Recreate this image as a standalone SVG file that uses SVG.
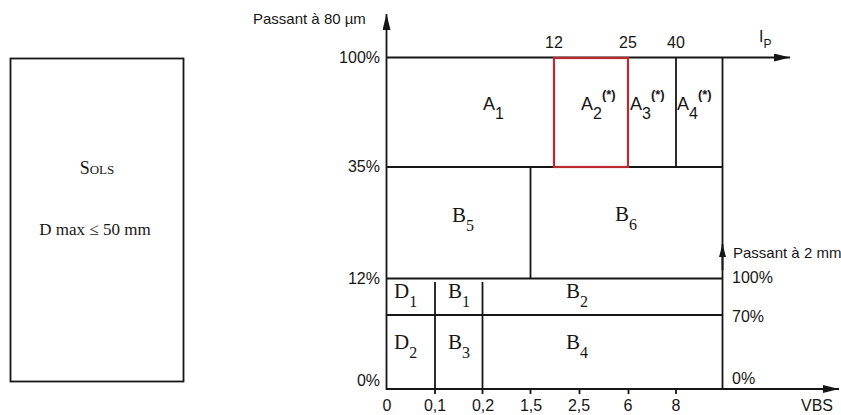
<svg xmlns="http://www.w3.org/2000/svg" width="841" height="415" viewBox="0 0 841 415">
<defs>
<style>
.ln{stroke:#161616;stroke-width:1.8;fill:none}
.red{stroke:#c0282f;stroke-width:2.2;fill:none}
.ax{font-family:"Liberation Sans",Arial,sans-serif;font-size:16px;fill:#161616}
.ttl{font-family:"Liberation Sans",Arial,sans-serif;font-size:15px;fill:#161616}
.za{font-family:"Liberation Sans",Arial,sans-serif;font-size:18px;fill:#161616}
.zb{font-family:"Liberation Serif","Times New Roman",serif;font-size:21px;fill:#161616}
.sub{font-size:16px}
.sup{font-family:"Liberation Sans",Arial,sans-serif;font-size:13px;font-weight:bold}
.sv{font-family:"Liberation Serif","Times New Roman",serif;fill:#161616}
</style>
<marker id="arr" viewBox="0 0 16 8" markerWidth="16" markerHeight="8" refX="16" refY="4" orient="auto" markerUnits="userSpaceOnUse">
<path d="M0,0 L16,4 L0,8 z" fill="#161616"/>
</marker>
<marker id="arrs" viewBox="0 0 13 7" markerWidth="13" markerHeight="7" refX="13" refY="3.5" orient="auto" markerUnits="userSpaceOnUse">
<path d="M0,0 L13,3.5 L0,7 z" fill="#161616"/>
</marker>
</defs>
<rect width="841" height="415" fill="#fff"/>

<g id="sols">
<rect x="10.5" y="58.5" width="173" height="323" class="ln"/>
<text x="97" y="174" class="sv" font-size="18" text-anchor="middle" font-variant="small-caps">Sols</text>
<text x="95" y="235" class="sv" font-size="17" text-anchor="middle">D max ≤ 50 mm</text>
</g>

<g id="connectors">
<line x1="386.5" y1="390" x2="386.5" y2="14" class="ln" marker-end="url(#arr)"/>
<line x1="386" y1="57.5" x2="790" y2="57.5" class="ln" marker-end="url(#arr)"/>
<line x1="386" y1="389" x2="839" y2="389" class="ln" marker-end="url(#arr)"/>
<line x1="722.5" y1="57" x2="722.5" y2="389" class="ln"/>
<line x1="722.5" y1="270" x2="722.5" y2="244" class="ln" marker-end="url(#arrs)"/>
<line x1="386" y1="167" x2="723" y2="167" class="ln"/>
<line x1="386" y1="278.5" x2="723" y2="278.5" class="ln"/>
<line x1="386" y1="315" x2="723" y2="315" class="ln"/>
<line x1="530.5" y1="167" x2="530.5" y2="279" class="ln"/>
<line x1="554" y1="57" x2="554" y2="167" class="ln"/>
<line x1="676" y1="57" x2="676" y2="167" class="ln"/>
<line x1="435" y1="282" x2="435" y2="394" class="ln"/>
<line x1="482.5" y1="282" x2="482.5" y2="394" class="ln"/>
<line x1="530.5" y1="389" x2="530.5" y2="394" class="ln"/>
<line x1="579.5" y1="389" x2="579.5" y2="394" class="ln"/>
<line x1="628.5" y1="389" x2="628.5" y2="394" class="ln"/>
<line x1="676" y1="389" x2="676" y2="394" class="ln"/>
<rect x="554" y="58" width="74" height="109" class="red"/>
</g>

<g id="axis-labels">
<text x="253" y="24" class="ttl">Passant à 80 µm</text>
<text x="380" y="63" class="ax" text-anchor="end">100%</text>
<text x="380" y="172" class="ax" text-anchor="end">35%</text>
<text x="380" y="284" class="ax" text-anchor="end">12%</text>
<text x="380" y="386" class="ax" text-anchor="end">0%</text>
<text x="554" y="48" class="ax" text-anchor="middle">12</text>
<text x="628" y="48" class="ax" text-anchor="middle">25</text>
<text x="676" y="48" class="ax" text-anchor="middle">40</text>
<text x="759" y="42" class="ax">I<tspan font-size="12" dy="6">P</tspan></text>
<text x="733" y="258" class="ttl">Passant à 2 mm</text>
<text x="732" y="283" class="ax">100%</text>
<text x="732" y="322" class="ax">70%</text>
<text x="732" y="384" class="ax">0%</text>
<text x="387" y="411" class="ax" text-anchor="middle">0</text>
<text x="435" y="411" class="ax" text-anchor="middle">0,1</text>
<text x="483" y="411" class="ax" text-anchor="middle">0,2</text>
<text x="531" y="411" class="ax" text-anchor="middle">1,5</text>
<text x="579" y="411" class="ax" text-anchor="middle">2,5</text>
<text x="628" y="411" class="ax" text-anchor="middle">6</text>
<text x="676" y="411" class="ax" text-anchor="middle">8</text>
<text x="817" y="411" class="ax" text-anchor="middle">VBS</text>
</g>

<g id="A1"><text x="483" y="110" class="za">A<tspan class="sub" dy="9">1</tspan></text></g>
<g id="A2"><text x="581" y="110" class="za">A<tspan class="sub" dy="9">2</tspan><tspan class="sup" dy="-20">(*)</tspan></text></g>
<g id="A3"><text x="630" y="110" class="za">A<tspan class="sub" dy="9">3</tspan><tspan class="sup" dy="-20">(*)</tspan></text></g>
<g id="A4"><text x="677" y="110" class="za">A<tspan class="sub" dy="9">4</tspan><tspan class="sup" dy="-20">(*)</tspan></text></g>
<g id="B5"><text x="452" y="222" class="zb">B<tspan class="sub" dy="9">5</tspan></text></g>
<g id="B6"><text x="615" y="221" class="zb">B<tspan class="sub" dy="9">6</tspan></text></g>
<g id="D1"><text x="394" y="298" class="zb">D<tspan class="sub" dy="9">1</tspan></text></g>
<g id="B1"><text x="448" y="298" class="zb">B<tspan class="sub" dy="9">1</tspan></text></g>
<g id="B2"><text x="566" y="298" class="zb">B<tspan class="sub" dy="9">2</tspan></text></g>
<g id="D2"><text x="394" y="349" class="zb">D<tspan class="sub" dy="9">2</tspan></text></g>
<g id="B3"><text x="448" y="349" class="zb">B<tspan class="sub" dy="9">3</tspan></text></g>
<g id="B4"><text x="566" y="349" class="zb">B<tspan class="sub" dy="9">4</tspan></text></g>
</svg>
